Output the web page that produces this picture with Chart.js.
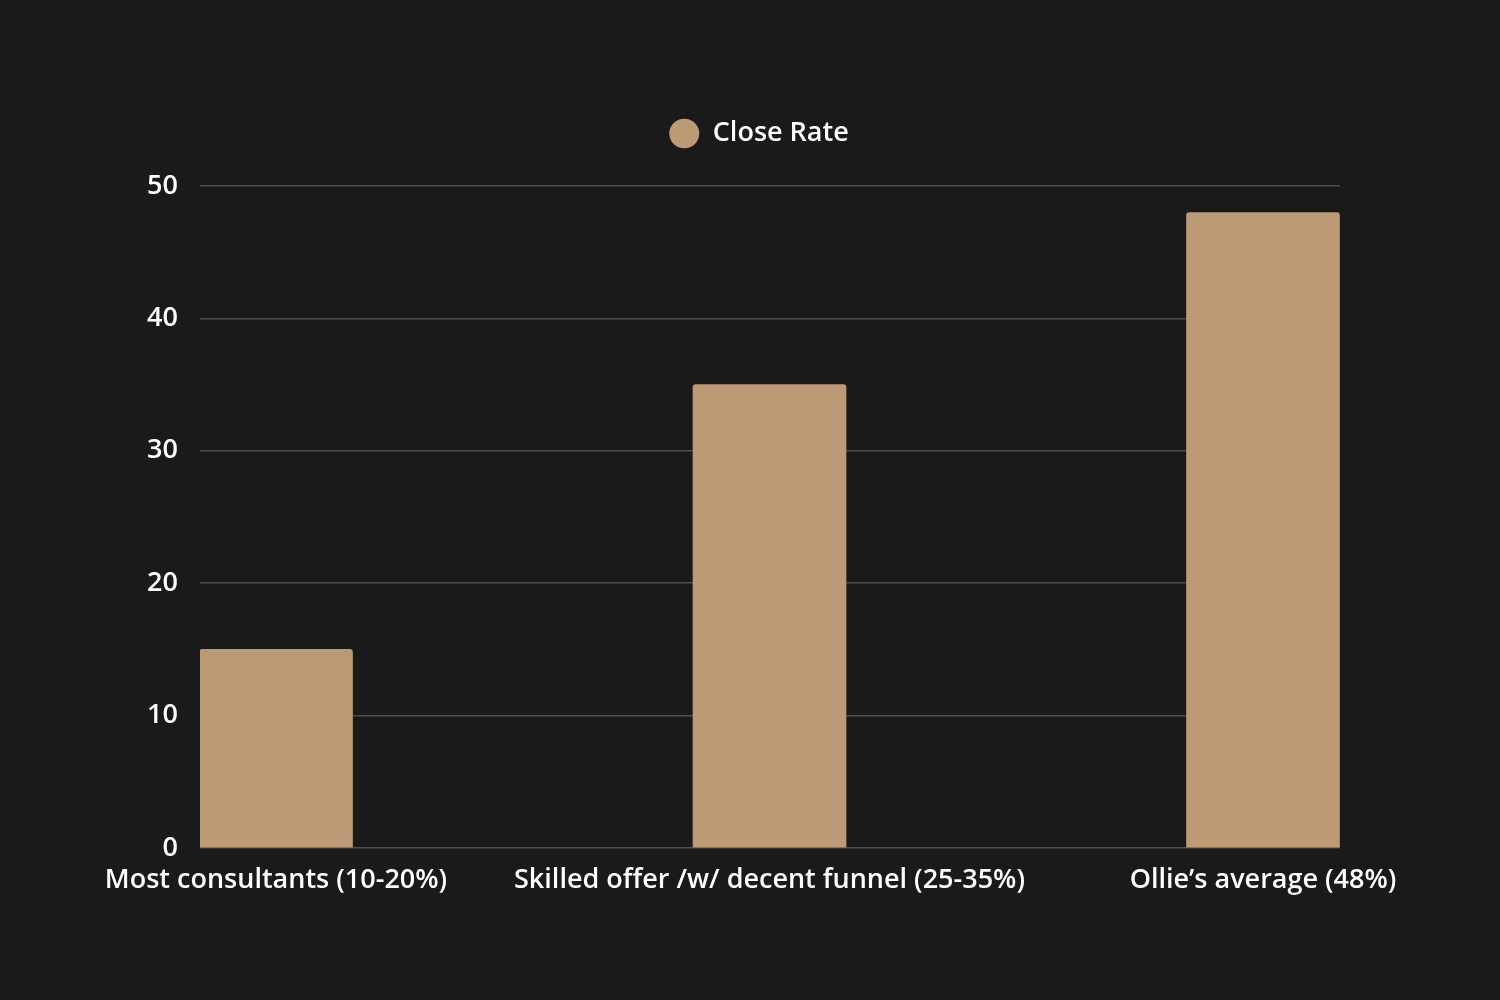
<!DOCTYPE html>
<html>
<head>
<meta charset="utf-8">
<script src="https://cdn.jsdelivr.net/npm/chart.js@4.4.0/dist/chart.umd.min.js"></script>
<style>
  html, body { margin: 0; padding: 0; background: #1a1a1a; }
  #wrap { width: 1500px; height: 1000px; }
</style>
</head>
<body>
<div id="wrap"><canvas id="myChart" width="1500" height="1000"></canvas></div>
<script>
var categories = ['Most consultants (10-20%)', 'Skilled offer /w/ decent funnel (25-35%)', 'Ollie\u2019s average (48%)'];
var closeRate = [15, 35, 48];
var yTicks = [0, 10, 20, 30, 40, 50];

var barColor = '#bd9a76';
var textColor = '#ffffff';
var gridColor = '#4d4d4d';
var fontFamily = '"Open Sans", "Noto Sans", sans-serif';

// bars sit on numeric positions 0..n-1 so they can touch the plot edges
var points = closeRate.map(function(v, i) { return { x: i, y: v }; });

// extra room below the legend, and centre it over the plot area
var legendTweak = {
	id: 'legendTweak',
	beforeInit: function(chart) {
		var origFit = chart.legend.fit;
		chart.legend.fit = function() {
			origFit.bind(chart.legend)();
			this.height += 29;
		};
	},
	afterLayout: function(chart) {
		chart.legend.left += 39;
		chart.legend.right += 39;
	}
};

var ctx = document.getElementById('myChart').getContext('2d');
var chart = new Chart(ctx, {
	type: 'bar',
	data: {
		datasets: [{
			label: 'Close Rate',
			data: points,
			backgroundColor: barColor,
			borderWidth: 0,
			borderRadius: 3,
			barThickness: 153
		}]
	},
	plugins: [legendTweak],
	options: {
		responsive: false,
		animation: false,
		layout: { padding: { top: 110, right: 160, bottom: 0, left: 100 } },
		plugins: {
			tooltip: { enabled: false },
			legend: {
				labels: {
					usePointStyle: true,
					pointStyle: 'circle',
					pointStyleWidth: 30,
					boxHeight: 21,
					padding: 10,
					color: textColor,
					font: { family: fontFamily, size: 27, weight: '600' }
				}
			}
		},
		scales: {
			x: {
				type: 'linear',
				offset: false,
				min: -0.154,
				max: 2.156,
				grid: { display: false },
				border: { display: false },
				afterBuildTicks: function(scale) {
					scale.ticks = categories.map(function(c, i) { return { value: i }; });
				},
				afterFit: function(scale) { scale.height = 152; },
				ticks: {
					autoSkip: false,
					maxRotation: 0,
					padding: 8,
					color: textColor,
					font: { family: fontFamily, size: 27, weight: '600' },
					callback: function(v) { return categories[v]; }
				}
			},
			y: {
				min: 0,
				max: 50,
				grid: { color: gridColor, lineWidth: 1.5, drawTicks: false },
				border: { display: false },
				afterBuildTicks: function(scale) {
					scale.ticks = yTicks.map(function(v) { return { value: v }; });
				},
				afterFit: function(scale) { scale.width = 100; },
				ticks: {
					padding: 22,
					color: textColor,
					font: { family: fontFamily, size: 27, weight: '600' }
				}
			}
		}
	}
});
</script>
</body>
</html>
